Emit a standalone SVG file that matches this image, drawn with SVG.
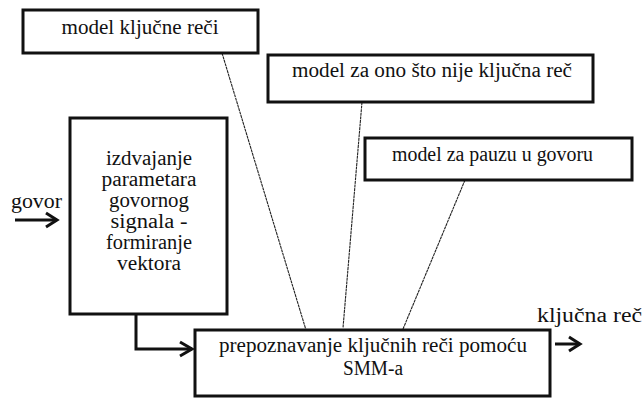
<svg xmlns="http://www.w3.org/2000/svg" width="643" height="398" viewBox="0 0 643 398">
<style>
.box{fill:#fff;stroke:#111;stroke-width:3}
.thin{stroke:#222;stroke-width:1.1;fill:none;stroke-dasharray:3 0.6}
.arr{stroke:#111;stroke-width:3;fill:none;stroke-linejoin:miter}
text{font-family:"Liberation Serif","DejaVu Serif","Noto Serif",serif;font-size:20px;fill:#111}
.c{text-anchor:middle}
</style>
<rect width="643" height="398" fill="#fff"/>
<g id="connectors">
<line class="thin" x1="222" y1="53" x2="306" y2="330"/>
<line class="thin" x1="362" y1="102" x2="343" y2="328"/>
<line class="thin" x1="465" y1="180" x2="403" y2="329"/>
<polyline class="arr" points="136,314 136,349 192,349"/>
<polyline class="arr" points="180,342 192,349 180,356"/>
<line class="arr" x1="15" y1="220" x2="57" y2="220"/>
<polyline class="arr" points="46,213 57,220 46,227"/>
<line class="arr" x1="555" y1="344" x2="580" y2="344"/>
<polyline class="arr" points="569,337 580,344 569,351"/>
</g>
<g id="n1">
<rect class="box" x="23" y="10" width="235" height="43"/>
<text class="c" x="140" y="34" textLength="157" lengthAdjust="spacingAndGlyphs">model ključne reči</text>
</g>
<g id="n2">
<rect class="box" x="268" y="55" width="325" height="47"/>
<text class="c" x="432" y="77" textLength="280" lengthAdjust="spacingAndGlyphs">model za ono što nije ključna reč</text>
</g>
<g id="n3">
<rect class="box" x="365" y="138" width="267" height="42"/>
<text class="c" x="492.5" y="161" textLength="201" lengthAdjust="spacingAndGlyphs">model za pauzu u govoru</text>
</g>
<g id="n4">
<rect class="box" x="70" y="118" width="157" height="196"/>
<text class="c" x="149" y="165" textLength="86" lengthAdjust="spacingAndGlyphs">izdvajanje</text>
<text class="c" x="149" y="186" textLength="95" lengthAdjust="spacingAndGlyphs">parametara</text>
<text class="c" x="149" y="207" textLength="80" lengthAdjust="spacingAndGlyphs">govornog</text>
<text class="c" x="149" y="228" textLength="77" lengthAdjust="spacingAndGlyphs">signala -</text>
<text class="c" x="149" y="249" textLength="86" lengthAdjust="spacingAndGlyphs">formiranje</text>
<text class="c" x="149" y="270" textLength="64" lengthAdjust="spacingAndGlyphs">vektora</text>
</g>
<g id="n5">
<rect class="box" x="195" y="330" width="355" height="66"/>
<text class="c" x="373" y="352" textLength="308" lengthAdjust="spacingAndGlyphs">prepoznavanje ključnih reči pomoću</text>
<text class="c" x="373" y="375" textLength="60" lengthAdjust="spacingAndGlyphs">SMM-a</text>
</g>
<g id="labels">
<text x="11" y="208" textLength="51" lengthAdjust="spacingAndGlyphs">govor</text>
<text x="537" y="322" textLength="105" lengthAdjust="spacingAndGlyphs">ključna reč</text>
</g>
</svg>
